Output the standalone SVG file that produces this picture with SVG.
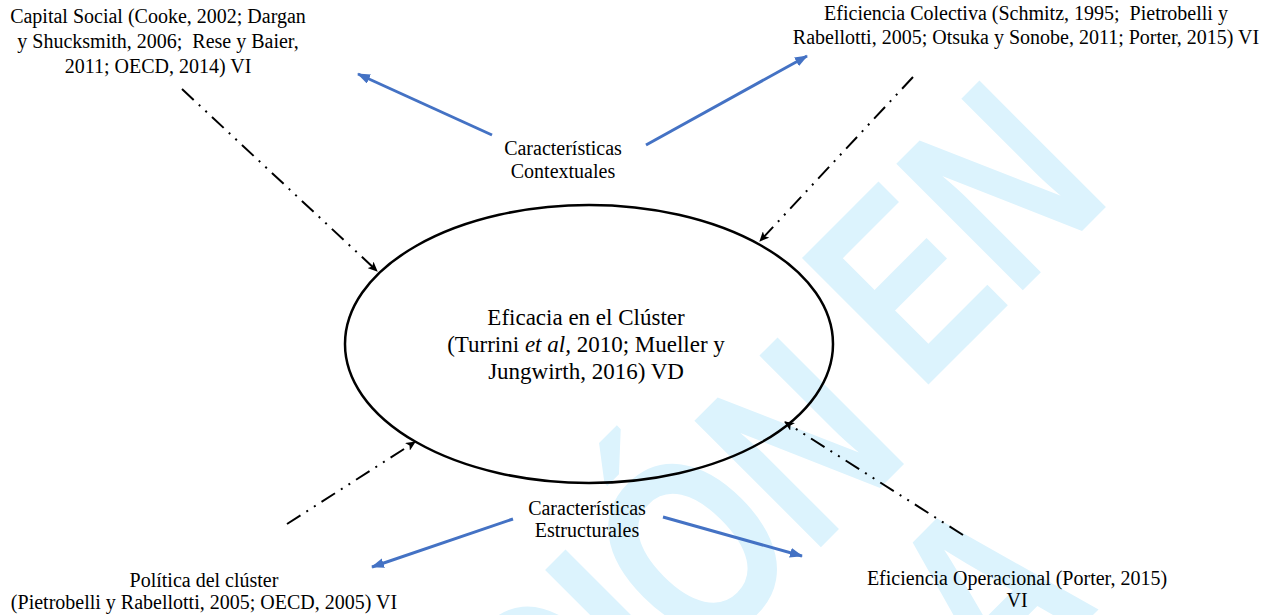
<svg xmlns="http://www.w3.org/2000/svg" width="1279" height="615" viewBox="0 0 1279 615">
<style>
.t{font-family:"Liberation Serif","Times New Roman",serif;font-size:20px;fill:#000;text-anchor:middle}
.c{font-size:23px}
.wm{font-family:"Liberation Sans",Arial,sans-serif;font-weight:bold;font-size:200px;fill:#dcf3fd}
.blue{stroke:#4472C4;stroke-width:3;fill:none;marker-end:url(#ab)}
.dd{stroke:#000;stroke-width:2;fill:none;stroke-dasharray:16 7 2 7 2 7;marker-end:url(#ak)}
</style>
<defs>
<marker id="ab" markerUnits="userSpaceOnUse" markerWidth="13" markerHeight="10" refX="12" refY="5" orient="auto">
<path d="M0,0 L13,5 L0,10 z" fill="#4472C4"/>
</marker>
<marker id="ak" markerUnits="userSpaceOnUse" markerWidth="10" markerHeight="9" refX="9" refY="4.5" orient="auto">
<path d="M0,0 L10,4.5 L0,9 L2.5,4.5 z" fill="#000"/>
</marker>
</defs>
<rect width="1279" height="615" fill="#fff"/>
<g id="watermark">
<text class="wm" transform="translate(560,808) rotate(-45) scale(1,1.3)">CIÓN</text>
<text class="wm" transform="translate(919,394) rotate(-45) scale(1,1.3)">EN</text>
<text class="wm" transform="translate(898,810) rotate(-45) scale(1,1.3)">DA</text>
</g>
<g id="connectors">
<line class="blue" x1="492" y1="135" x2="358" y2="74"/>
<line class="blue" x1="646" y1="145" x2="807" y2="56"/>
<line class="blue" x1="513" y1="519" x2="372" y2="567"/>
<line class="blue" x1="663" y1="517" x2="802" y2="556"/>
<line class="dd" x1="182" y1="89" x2="377" y2="271"/>
<line class="dd" x1="913" y1="77" x2="760" y2="241"/>
<line class="dd" x1="287" y1="524" x2="415" y2="442"/>
<line class="dd" x1="963" y1="535" x2="785" y2="422"/>
</g>
<g id="capital-social">
<text class="t" xml:space="preserve"><tspan x="158" y="23">Capital Social (Cooke, 2002; Dargan</tspan><tspan x="158" y="48">y Shucksmith, 2006;  Rese y Baier,</tspan><tspan x="158" y="73">2011; OECD, 2014) VI</tspan></text>
</g>
<g id="eficiencia-colectiva">
<text class="t" xml:space="preserve"><tspan x="1026" y="20">Eficiencia Colectiva (Schmitz, 1995;  Pietrobelli y</tspan><tspan x="1026" y="44">Rabellotti, 2005; Otsuka y Sonobe, 2011; Porter, 2015) VI</tspan></text>
</g>
<g id="caracteristicas-contextuales">
<text class="t"><tspan x="563" y="155">Características</tspan><tspan x="563" y="178">Contextuales</tspan></text>
</g>
<g id="eficacia-cluster">
<ellipse cx="589" cy="344" rx="244" ry="139" fill="none" stroke="#000" stroke-width="2.5"/>
<text class="t c"><tspan x="586" y="325">Eficacia en el Clúster</tspan><tspan x="586" y="352">(Turrini <tspan font-style="italic">et al,</tspan> 2010; Mueller y</tspan><tspan x="586" y="379">Jungwirth, 2016) VD</tspan></text>
</g>
<g id="caracteristicas-estructurales">
<text class="t"><tspan x="587" y="515">Características</tspan><tspan x="587" y="537">Estructurales</tspan></text>
</g>
<g id="politica-cluster">
<text class="t"><tspan x="204" y="587">Política del clúster</tspan><tspan x="204" y="609">(Pietrobelli y Rabellotti, 2005; OECD, 2005) VI</tspan></text>
</g>
<g id="eficiencia-operacional">
<text class="t"><tspan x="1017" y="585">Eficiencia Operacional (Porter, 2015)</tspan><tspan x="1017" y="607">VI</tspan></text>
</g>
</svg>
